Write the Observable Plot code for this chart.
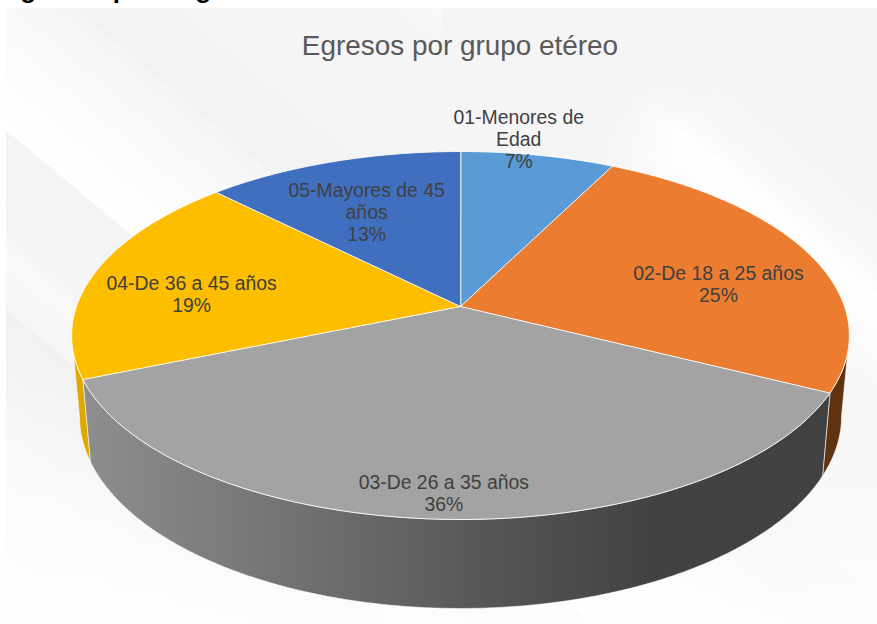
<!DOCTYPE html>
<html lang="es">
<head>
<meta charset="utf-8">
<script src="https://cdn.jsdelivr.net/npm/d3@7"></script>
<script src="https://cdn.jsdelivr.net/npm/@observablehq/plot@0.6"></script>
<style>
  html, body { margin: 0; padding: 0; background: #fff; overflow: hidden; width: 877px; height: 624px; }
  #cut { position: absolute; left: 3px; top: -24px; font: bold 26px/26px "Liberation Sans", Arial, sans-serif; color: #000; white-space: nowrap; }
  #panel {
    position: absolute; left: 6px; top: 8px; width: 871px; height: 616px;
    background:
      linear-gradient(130deg, #f5f5f5 200px, rgba(245,245,245,0) 270px) right top / 50% 300px no-repeat,
      linear-gradient(to bottom, rgba(255,255,255,0) 60%, rgba(255,255,255,.75) 100%),
      linear-gradient(40deg,
        #fbfbfb 0, #f8f8f8 120px, #f5f5f5 170px, #f1f1f1 240px, #f6f6f6 242px, #f9f9f9 285px,
        #f5f5f5 300px, #f4f4f4 378px, #ffffff 379px, #fbfbfb 440px, #f5f5f5 515px, #f2f2f2 517px,
        #f3f3f3 582px, #f5f5f5 584px, #f5f5f5 705px, #f6f6f6 725px, #fcfcfc 775px, #ffffff 810px,
        #fbfbfb 819px, #f6f6f6 850px, #f5f5f5 1032px);
  }
  #title { position: absolute; left: 0; width: 920px; top: 30px; text-align: center; font: 27.9px/32px "Liberation Sans", Arial, sans-serif; color: #595959; }
  #chart { position: absolute; left: 0; top: 0; }
</style>
</head>
<body>
<div id="cut">Egresos por Región</div>
<div id="panel"></div>
<div id="title">Egresos por grupo etéreo</div>
<div id="chart"></div>
<script>
// Data
const groups = ["01-Menores de\nEdad", "02-De 18 a 25 años", "03-De 26 a 35 años", "04-De 36 a 45 años", "05-Mayores de 45\naños"];
const shares = [7.45, 24.95, 36.35, 18.75, 12.5];
const percentLabels = ["7%", "25%", "36%", "19%", "13%"];

// Styles
const topColors = ["#5a9ad6", "#eb7c30", "#a3a3a3", "#fdbe00", "#416fc0"];
const wallColors = {1: "#5f3210", 2: "url(#wall)", 3: "#dfa800"};

// Label placement in pie coordinates (degrees clockwise from top, radius fraction)
const labelTurn = [9.2, 79.2, 182.4, 275.5, 335.2];
const labelReach = [1.113, 0.698, 0.892, 0.711, 0.636];

// Perspective of the tilted disc
const apex = {x: 460, y: 306}, k = 0.1576, A = 384, B = 179.4;
const rad = d => d * Math.PI / 180;
function project(deg, r = 1) {
  const u = r * Math.sin(rad(deg)), v = -r * Math.cos(rad(deg)), w = 1 - k * v;
  return {x: apex.x + A * u / w, y: apex.y + B * v / w};
}
function lower(p) { // the matching point on the bottom face of the disc
  return {x: apex.x + 0.98 * (p.x - apex.x), y: apex.y + 79 + 1.047 * (p.y - apex.y)};
}
const arc = (a, b) => d3.range(0, 1.0001, 1 / Math.max(2, Math.ceil(Math.abs(b - a) * 2))).map(t => project(a + (b - a) * t));

const total = d3.sum(shares);
const edges = [0, ...d3.cumsum(shares).map(s => s / total * 360)];
const slices = groups.map((g, i) => [apex, ...arc(edges[i], edges[i + 1])]);

// Walls, visible only between the silhouette angles 99° and 261°
const wall = (a, b) => { const t = arc(a, b); return [...t, ...t.map(lower).reverse()]; };
const walls = [
  {fill: wallColors[1], pts: wall(99, edges[2])},
  {fill: wallColors[3], pts: wall(edges[3], 261)},
  {fill: wallColors[2], pts: wall(edges[2], edges[3])}
];

const labels = groups.map((g, i) => ({...project(labelTurn[i], labelReach[i]), text: g + "\n" + percentLabels[i]}));

const defs = () => {
  const NS = "http://www.w3.org/2000/svg";
  const d = document.createElementNS(NS, "defs");
  const g = document.createElementNS(NS, "linearGradient");
  g.setAttribute("id", "wall");
  [[0, "#8e8e8e"], [0.28, "#727272"], [0.55, "#555555"], [0.76, "#424242"], [1, "#414141"]].forEach(([o, c]) => {
    const s = document.createElementNS(NS, "stop");
    s.setAttribute("offset", o); s.setAttribute("stop-color", c); g.appendChild(s);
  });
  d.appendChild(g);
  return d;
};

const plot = Plot.plot({
  width: 877, height: 624,
  margin: 0,
  style: {background: "transparent"},
  x: {domain: [0, 877], range: [0, 877], axis: null},
  y: {domain: [0, 624], range: [0, 624], axis: null},
  marks: [
    defs,
    ...walls.map(w => Plot.line(w.pts, {x: "x", y: "y", fill: w.fill, stroke: "#fff", strokeWidth: 0.8, strokeOpacity: 0.75, curve: "linear-closed"})),
    ...slices.map((s, i) => Plot.line(s, {x: "x", y: "y", fill: topColors[i], stroke: "#fff", strokeWidth: 1, strokeOpacity: 0.85, curve: "linear-closed"})),
    Plot.text(labels, {x: "x", y: "y", text: "text", fontSize: 19.4, lineHeight: 1.134, fill: "#404040", fontFamily: "Liberation Sans, Arial, sans-serif", textAnchor: "middle"})
  ]
});
document.getElementById("chart").appendChild(plot);
</script>
</body>
</html>
